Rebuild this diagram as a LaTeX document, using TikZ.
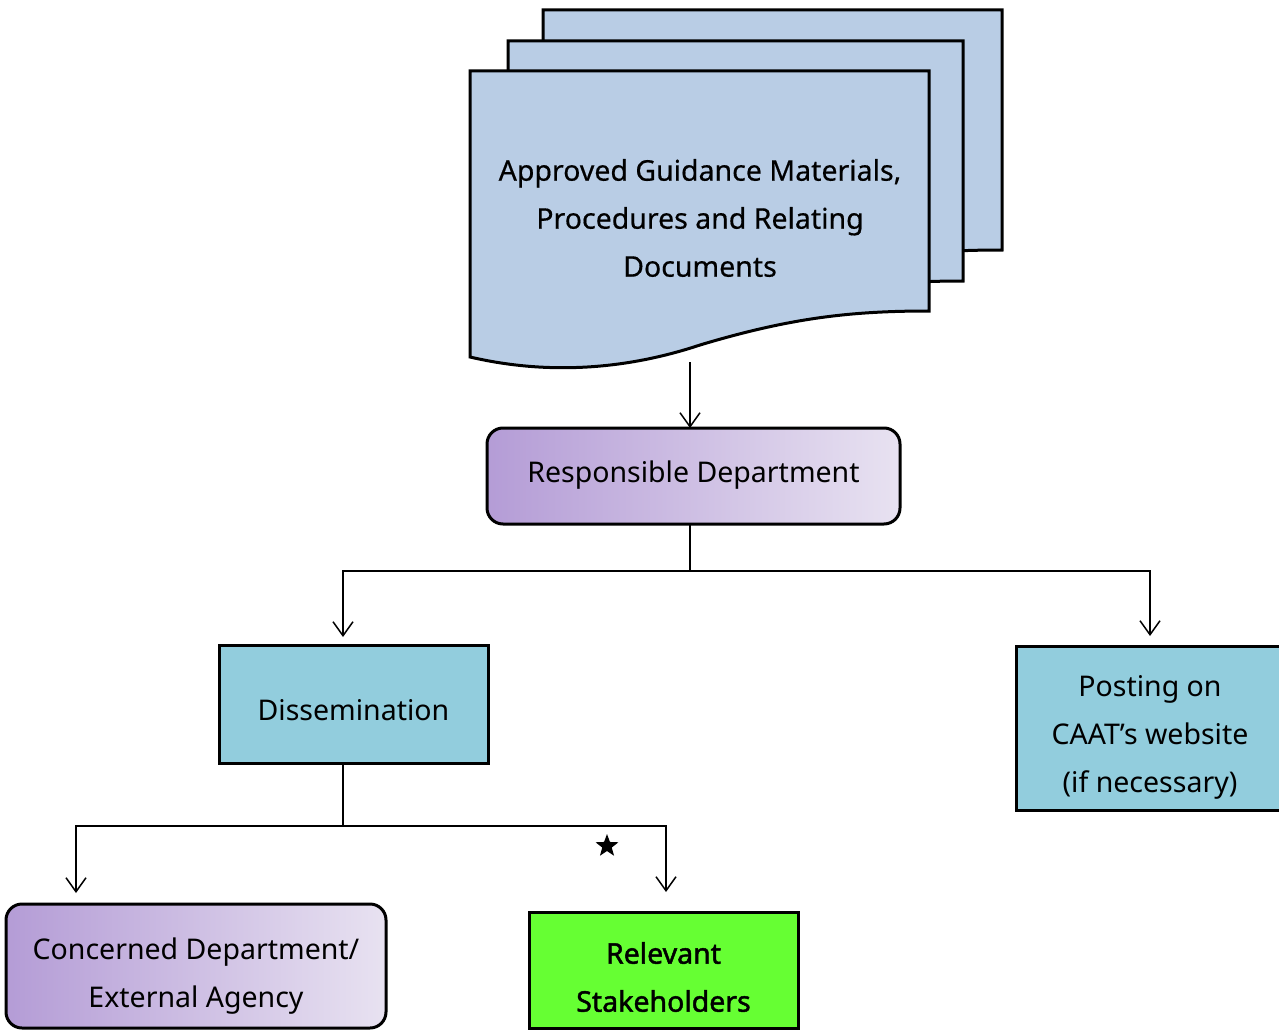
\documentclass[tikz,border=0pt]{standalone}
\usepackage{fontspec}
\setmainfont{Noto Sans}
\usetikzlibrary{arrows.meta,shapes.geometric}
\definecolor{docblue}{HTML}{B9CDE5}
\definecolor{boxblue}{HTML}{92CDDD}
\definecolor{purpL}{HTML}{B49CD6}
\definecolor{purpR}{HTML}{E8E2F1}
\definecolor{brightgreen}{HTML}{66FF33}
\tikzset{
  docpage/.style={draw=black, line width=3pt, fill=docblue},
  gradbox/.style={draw=black, line width=3pt, rounded corners=16pt, left color=purpL, right color=purpR},
  plainbox/.style={draw=black, line width=3pt},
  lbl/.style={align=center, font=\fontsize{28.5}{48}\selectfont, text=black},
  conn/.style={line width=1.5pt},
  arr/.style={conn, -{Straight Barb[length=14pt, width=20pt, line width=1.5pt]}},
}
\begin{document}
\begin{tikzpicture}[x=1pt,y=-1pt]
\useasboundingbox (0,0) rectangle (1279,1030);
\clip (0,0) rectangle (1279,1030);
% document stack
\foreach \dx/\dy/\w in {73/-61/459, 38/-30/455, 0/0/459}{
  \draw[docpage, shift={(\dx,\dy)}] (470,71) -- (470+\w,71) -- (470+\w,311)
     .. controls (850,311) and (790,318) .. (700,345)
     .. controls (640,365) and (560,378) .. (470,357) -- cycle;
}
\node[lbl, font=\fontsize{28.5}{48}\selectfont\addfontfeatures{FakeBold=0.5}] (doc) at (700,218) {Approved Guidance Materials,\\Procedures and Relating\\Documents};
\coordinate (docb) at (690,362);
% responsible department
\path[gradbox] (487,428) rectangle (900,524);
\node[lbl] (resp) at (693.5,475) {Responsible Department};
\coordinate (respT) at (690,428);
\coordinate (respB) at (690,524);
% dissemination
\path[plainbox, fill=boxblue] (219,645) rectangle (488,763);
\node[lbl] (diss) at (353.5,710) {Dissemination};
\coordinate (dissT) at (343,637);
\coordinate (dissB) at (343,763);
% posting
\path[plainbox, fill=boxblue] (1016,646) rectangle (1300,810);
\node[lbl] (post) at (1150,737) {Posting on\\CAAT’s website\\(if necessary)};
\coordinate (postT) at (1150,636);
% concerned
\path[gradbox] (6,904) rectangle (386,1028);
\node[lbl] (conc) at (196,976) {Concerned Department/\\External Agency};
\coordinate (concT) at (76,893);
% relevant
\path[plainbox, fill=brightgreen] (529,912) rectangle (798,1028);
\node[lbl, font=\fontsize{28.5}{48}\selectfont\addfontfeatures{FakeBold=1.6}] (rel) at (663.5,977) {Relevant\\Stakeholders};
\coordinate (relT) at (666,892);
% connectors
\draw[arr] (docb) -- (respT);
\coordinate (j1) at (690,571);
\draw[conn] (respB) -- (j1);
\draw[arr] (j1) -| (dissT);
\draw[arr] (j1) -| (postT);
\coordinate (j2) at (343,826);
\draw[conn] (dissB) -- (j2);
\draw[arr] (j2) -| (concT);
\draw[arr] (j2) -| (relT);
\node[star, star points=5, star point ratio=2.4, fill=black, inner sep=0pt, minimum size=24pt] (star) at (607,846) {};
\end{tikzpicture}
\end{document}
